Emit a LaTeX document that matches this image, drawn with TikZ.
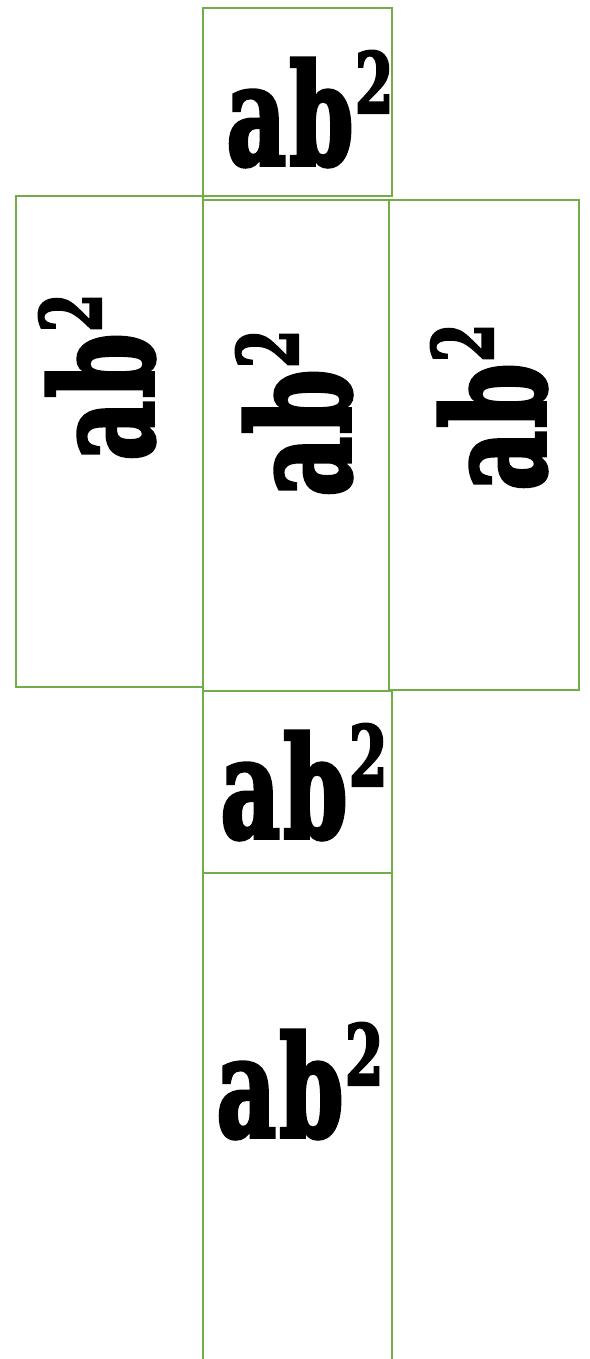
\documentclass[tikz,border=0pt]{standalone}
\usepackage{fontspec}
\usepackage{tikz}
\newfontfamily\abfont[FakeStretch=0.65,FakeBold=2.5]{DejaVu Serif Bold}
\definecolor{netline}{RGB}{112,173,71}
\newcommand{\abtwo}{{\fontsize{80}{80}\abfont a\kern2pt b\kern1pt\raisebox{29.5pt}{\fontsize{48}{48}\selectfont 2}}}
\tikzset{
  face/.style={draw=netline, line width=1.3pt},
  lbl/.style={inner sep=0pt, anchor=base, text=black},
  vlbl/.style={lbl, rotate=90}
}

\begin{document}
\begin{tikzpicture}[x=0.02cm,y=-0.02cm]
  \useasboundingbox (0,0) rectangle (589,1359);
  % faces of the net
  \foreach \xa/\ya/\xb/\yb in {203/8/392/196, 16/196/203/687, 203/200/389/691,
                               389/200/579/690, 203/691/392/873, 203/873/392/1375}
    \draw[face] (\xa,\ya) rectangle (\xb,\yb);
  \node[lbl] (ftop) at (310,165) {\abtwo};
  \node[vlbl] (fleft) at (153,377) {\abtwo};
  \node[vlbl] (fmid) at (350,413) {\abtwo};
  \node[vlbl] (fright) at (545,407) {\abtwo};
  \node[lbl] (flow) at (304,838) {\abtwo};
  \node[lbl] (fbot) at (300,1137) {\abtwo};
\end{tikzpicture}
\end{document}
